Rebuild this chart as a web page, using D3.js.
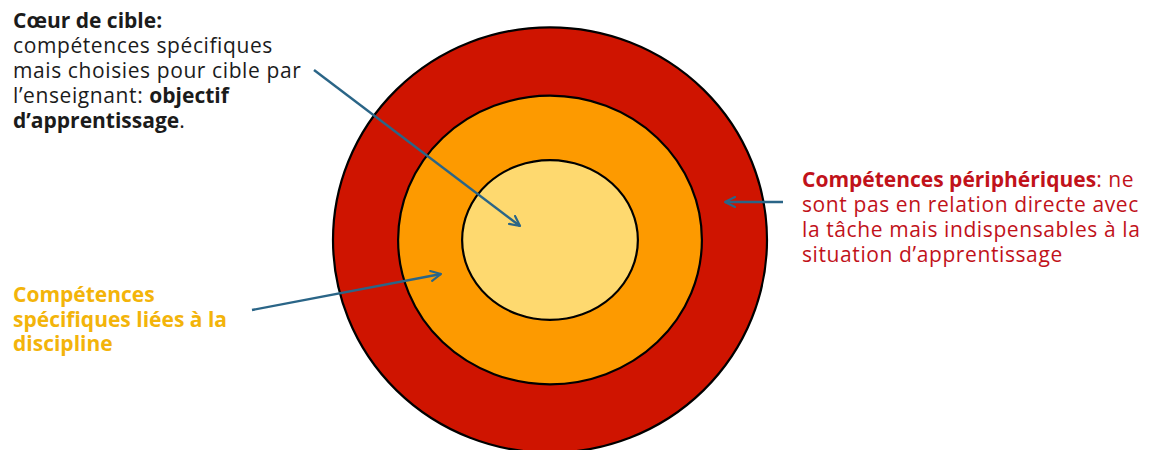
<!DOCTYPE html>
<html><head><meta charset="utf-8">
<script src="https://cdn.jsdelivr.net/npm/d3@7"></script>
<style>body{margin:0;background:#fff}svg{display:block}</style>
</head><body><svg id="c" width="1151" height="450"></svg>
<script>
// ---- data ----
const ringNames = ["Compétences périphériques", "Compétences spécifiques", "Cœur de cible"];
const ringSizeX = [1.0, 0.70, 0.405];   // relative horizontal extent of each ring
const ringSizeY = [0.98, 0.665, 0.368];  // relative vertical extent
const ringColors = ["#cf1400", "#fd9a00", "#fed96f"];

const block1 = [
  [{t:"Cœur de cible:", b:true}],
  [{t:"compétences spécifiques", b:false}],
  [{t:"mais choisies pour cible par", b:false}],
  [{t:"l’enseignant: ", b:false},{t:"objectif", b:true}],
  [{t:"d’apprentissage", b:true},{t:".", b:false}]
];
const block2 = [
  [{t:"Compétences", b:true}],
  [{t:"spécifiques liées à la", b:true}],
  [{t:"discipline", b:true}]
];
const block3 = [
  [{t:"Compétences périphériques", b:true},{t:": ne", b:false}],
  [{t:"sont pas en relation directe avec", b:false}],
  [{t:"la tâche mais indispensables à la", b:false}],
  [{t:"situation d’apprentissage", b:false}]
];

// ---- drawing ----
const svg = d3.select("#c");
const cx = 550, cy = 240;
const sx = d3.scaleLinear().domain([0,1]).range([0,217]);
const sy = d3.scaleLinear().domain([0,1]).range([0,217]);

svg.selectAll("ellipse.ring").data(ringNames).join("ellipse")
  .attr("class","ring")
  .attr("cx", cx).attr("cy", cy)
  .attr("rx", (d,i)=>sx(ringSizeX[i]))
  .attr("ry", (d,i)=>sy(ringSizeY[i]))
  .attr("fill", (d,i)=>ringColors[i])
  .attr("stroke", "#000").attr("stroke-width", 2.2);

const arrowColor = "#2a6587";
svg.append("defs").append("marker")
  .attr("id","ah").attr("viewBox","0 0 12 12").attr("refX",11).attr("refY",6)
  .attr("markerWidth",12).attr("markerHeight",12).attr("markerUnits","userSpaceOnUse")
  .attr("orient","auto")
  .append("path").attr("d","M1,1 L11,6 L1,11")
  .attr("fill","none").attr("stroke",arrowColor).attr("stroke-width",2.2)
  .attr("stroke-linecap","round").attr("stroke-linejoin","round");

const arrows = [
  {x1:314, y1:70, x2:520, y2:226},
  {x1:252, y1:310, x2:441, y2:274},
  {x1:783, y1:202, x2:725, y2:202}
];
svg.selectAll("line.arr").data(arrows).join("line")
  .attr("class","arr")
  .attr("x1",d=>d.x1).attr("y1",d=>d.y1).attr("x2",d=>d.x2).attr("y2",d=>d.y2)
  .attr("stroke",arrowColor).attr("stroke-width",2.4).attr("marker-end","url(#ah)");

function block(lines, x, y0, lh, color, size){
  const t = svg.append("text").attr("x",x).attr("y",y0)
    .attr("font-family","'Open Sans', sans-serif").attr("font-size",size).attr("fill",color);
  lines.forEach((segs,i)=>{
    segs.forEach((s,j)=>{
      const ts = t.append("tspan").text(s.t)
        .attr("font-weight", s.b?700:400)
        .attr("letter-spacing", s.b?0:0.6);
      if(j===0) ts.attr("x",x).attr("y", y0 + i*lh);
    });
  });
  return t;
}
block(block1, 13, 28, 25, "#1b1b1b", 21);
block(block2, 13, 302, 24.5, "#f3b40a", 21);
block(block3, 802, 187, 25, "#c1121a", 21);
</script></body></html>
